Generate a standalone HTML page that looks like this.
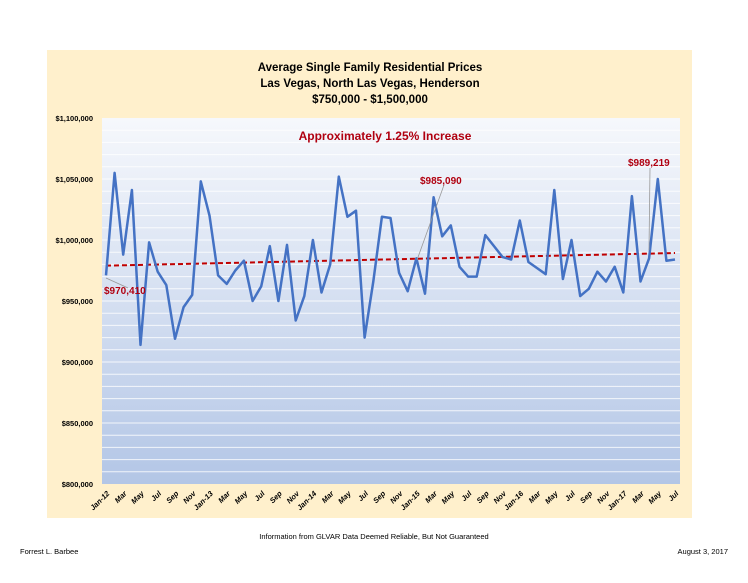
<!DOCTYPE html>
<html><head><meta charset="utf-8"><style>
body{margin:0;background:#fff;width:748px;height:578px;overflow:hidden;font-family:"Liberation Sans",sans-serif}
svg text{font-family:"Liberation Sans",sans-serif}
</style></head><body>
<svg width="748" height="578">
<defs><linearGradient id="bg" x1="0" y1="0" x2="0" y2="1"><stop offset="0" stop-color="#f6f8fc"/><stop offset="1" stop-color="#b3c6e6"/></linearGradient></defs>
<rect x="47" y="50" width="645" height="468" fill="#fff0cc"/>
<rect x="102" y="118" width="578" height="366" fill="url(#bg)"/>
<g id="grid"></g><g id="yt"></g><g id="xt"></g>
<text x="370" y="71" text-anchor="middle" font-size="11.5" font-weight="bold">Average Single Family Residential Prices</text>
<text x="370" y="87" text-anchor="middle" font-size="11.5" font-weight="bold">Las Vegas, North Las Vegas, Henderson</text>
<text x="370" y="103" text-anchor="middle" font-size="11.5" font-weight="bold">$750,000 - $1,500,000</text>
<text x="385" y="140" text-anchor="middle" font-size="12" font-weight="bold" fill="#b00010">Approximately 1.25% Increase</text>
<path id="trend" fill="none" stroke="#c00000" stroke-width="2" stroke-dasharray="5,3"/>
<path id="line" fill="none" stroke="#4472c4" stroke-width="2.5" stroke-linejoin="round"/>
<line x1="106" y1="278" x2="128" y2="288" stroke="#999" stroke-width="0.8"/>
<text x="104" y="294" font-size="10" font-weight="bold" fill="#b00010">$970,410</text>
<line x1="444" y1="185" x2="417" y2="260" stroke="#999" stroke-width="0.8"/>
<text x="420" y="184" font-size="10" font-weight="bold" fill="#b00010">$985,090</text>
<line x1="650" y1="168" x2="649" y2="250" stroke="#999" stroke-width="0.8"/>
<text x="628" y="166" font-size="10" font-weight="bold" fill="#b00010">$989,219</text>
<text x="374" y="539" text-anchor="middle" font-size="7.5">Information from GLVAR Data Deemed Reliable, But Not Guaranteed</text>
<text x="20" y="554" font-size="7.5">Forrest L. Barbee</text>
<text x="728" y="554" text-anchor="end" font-size="7.5">August 3, 2017</text>
</svg>
<script>
const values=[971,1055,988,1041,914,998,974,963,919,945,955,1048,1020,971,964,975,983,950,962,995,950,996,934,954,1000,957,980,1052,1019,1024,920,966,1019,1018,973,958,985,956,1035,1003,1012,978,970,970,1004,995,986,984,1016,982,977,972,1041,968,1000,954,960,974,966,978,957,1036,966,985,1050,983,984];
const yTicks=[800,850,900,950,1000,1050,1100];
const xLabels=["Jan-12","Mar","May","Jul","Sep","Nov","Jan-13","Mar","May","Jul","Sep","Nov","Jan-14","Mar","May","Jul","Sep","Nov","Jan-15","Mar","May","Jul","Sep","Nov","Jan-16","Mar","May","Jul","Sep","Nov","Jan-17","Mar","May","Jul"];
const NS="http://www.w3.org/2000/svg";
const x=i=>106+i*(675-106)/(values.length-1);
const y=v=>484-(v-800)/300*366;
const g=document.getElementById('grid'),yt=document.getElementById('yt'),xt=document.getElementById('xt');
for(let v=810;v<1100;v+=10){const l=document.createElementNS(NS,'line');


l.setAttribute('x1',102);l.setAttribute('x2',680);l.setAttribute('y1',y(v));l.setAttribute('y2',y(v));l.setAttribute('stroke','#fff');l.setAttribute('stroke-opacity','0.8');l.setAttribute('stroke-width','1');g.appendChild(l);}
yTicks.forEach(v=>{const t=document.createElementNS(NS,'text');


t.setAttribute('x',93);t.setAttribute('y',y(v)+3);t.setAttribute('text-anchor','end');t.setAttribute('font-size','7.5');t.setAttribute('font-weight','bold');
t.textContent='$'+(v*1000).toLocaleString('en-US');yt.appendChild(t);});
xLabels.forEach((s,k)=>{const t=document.createElementNS(NS,'text');


const xx=x(k*2)+4,yy=494;t.setAttribute('x',xx);t.setAttribute('y',yy);t.setAttribute('text-anchor','end');t.setAttribute('font-size','7.5');t.setAttribute('font-weight','bold');t.setAttribute('font-style','italic');
t.setAttribute('transform','rotate(-45 '+xx+' '+yy+')');t.textContent=s;xt.appendChild(t);});
document.getElementById('line').setAttribute('d',values.map((v,i)=>(i?'L':'M')+x(i).toFixed(1)+','+y(v).toFixed(1)).join(''));
const n=values.length;let sx=0,sy=0,sxx=0,sxy=0;values.forEach((v,i)=>{sx+=i;sy+=v;sxx+=i*i;sxy+=i*v;});
const b=(n*sxy-sx*sy)/(n*sxx-sx*sx),a=(sy-b*sx)/n;
document.getElementById('trend').setAttribute('d','M'+x(0)+','+y(a)+'L'+x(n-1)+','+y(a+b*(n-1)));
</script>
</body></html>
